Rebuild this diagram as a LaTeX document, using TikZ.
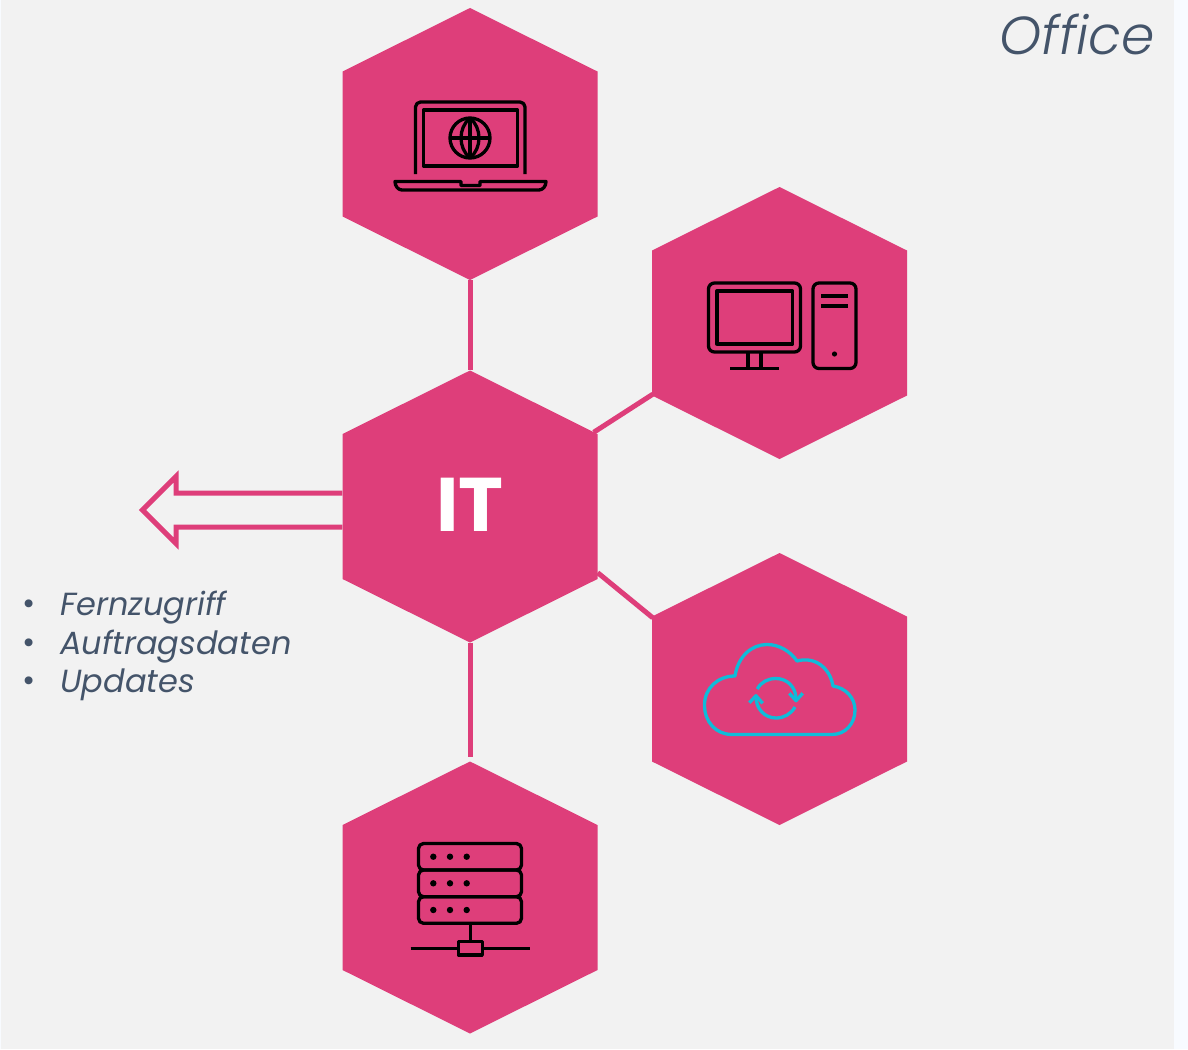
\documentclass[tikz,border=0pt]{standalone}
\usepackage{fontspec}
\usetikzlibrary{calc}
\setmainfont{Poppins}
\newfontfamily\poplight[ItalicFont={Poppins Light Italic}]{Poppins Light}
\definecolor{hexpink}{HTML}{DE3E7A}
\definecolor{slate}{HTML}{44546A}
\definecolor{syncblue}{HTML}{0FBCD9}
\definecolor{panel}{HTML}{F2F2F2}
\definecolor{strip}{HTML}{F8FBFF}
\tikzset{
  hexnode/.style={rectangle,inner sep=0pt,minimum width=255pt,minimum height=272pt,
    path picture={
      \fill[hexpink] (path picture bounding box.north)
        -- ($(path picture bounding box.north east)+(0,63.5)$)
        -- ($(path picture bounding box.south east)+(0,-63.5)$)
        -- (path picture bounding box.south)
        -- ($(path picture bounding box.south west)+(0,-63.5)$)
        -- ($(path picture bounding box.north west)+(0,63.5)$) -- cycle;
    }},
  link/.style={draw=hexpink,line width=5pt},
  icon/.style={draw=black,line width=3.3pt,line join=round},
  syncicon/.style={draw=syncblue,line width=3.3pt,line join=round},
  bodytext/.style={anchor=base west,inner sep=0pt,text=slate,font=\itshape\fontsize{32}{32}\selectfont},
  dotmark/.style={anchor=base west,inner sep=0pt,text=slate,font=\fontsize{32}{32}\selectfont}
}
\begin{document}
\begin{tikzpicture}[x=1pt,y=-1pt]
\useasboundingbox (0,0) rectangle (1188,1049);
\fill[strip] (0,0) rectangle (1188,1049);
\fill[panel] (1,0) rectangle (1174,1049);

\node[hexnode] (top) at (470,144) {};
\node[hexnode] (it) at (470,506.5) {};
\node[hexnode] (pc) at (779.5,323) {};
\node[hexnode] (cloud) at (779.5,689) {};
\node[hexnode] (srv) at (470,897.5) {};

\node[text=white,inner sep=0pt,anchor=base,font=\bfseries\fontsize{76}{76}\selectfont] (itlabel) at (470,531) {IT};
\node[anchor=base east,inner sep=0pt,text=slate,font=\poplight\itshape\fontsize{53.5}{53.5}\selectfont] (office) at (1155,55) {Office};

\node[dotmark] (b1) at (22,614) {•};
\node[dotmark] (b2) at (22,653) {•};
\node[dotmark] (b3) at (22,691) {•};
\node[bodytext] (t1) at (60,615) {Fernzugriff};
\node[bodytext] (t2) at (60,654) {Auftragsdaten};
\node[bodytext] (t3) at (60,692) {Updates};

% connectors
\draw[link] (top.south) -- (it.north);
\draw[link,shorten >=4pt] (it.south) -- (srv.north);
\draw[link] ($(it.north east)+(-4,62)$) -- ($(pc.south west)+(1,-65)$);
\draw[link] ($(it.south east)+(0,-70)$) -- ($(cloud.north west)+(1,65)$);

% outline arrow
\coordinate (au) at ($(it.west)+(0,-13.5)$);
\coordinate (al) at ($(it.west)+(0,20.5)$);
\draw[hexpink,line width=5pt,miter limit=10]
  (au) -- (176,493) -- (176,476.5) -- (142.5,510) -- (176,543.5) -- (176,527) -- (al);

% laptop
\draw[icon,rounded corners=5pt] (415.5,174) -- (415.5,102) -- (525,102) -- (525,174);
\draw[icon] (423.5,110) rectangle (517.5,166);
\draw[icon] (470,138) circle (20);
\draw[icon] (470,118) .. controls (458,128) and (458,148) .. (470,158);
\draw[icon] (470,118) .. controls (482,128) and (482,148) .. (470,158);
\draw[icon] (470,118) -- (470,158);
\draw[icon] (450,138) -- (490,138);
\draw[icon] (395,181.5) -- (461,181.5) -- (461,185) .. controls (461,185.5) .. (463,185.5) -- (478,185.5) .. controls (480,185.5) .. (480,185) -- (480,181.5) -- (546,181.5)
  .. controls (546,186) and (543,190) .. (539,190) -- (402,190) .. controls (398,190) and (395,186) .. (395,181.5) -- cycle;

% desktop
\draw[icon,rounded corners=6pt] (708.5,283) rectangle (800.5,352);
\draw[icon] (717,291) rectangle (792.5,344);
\draw[icon] (748,352) -- (748,368.5);
\draw[icon] (761,352) -- (761,368.5);
\draw[icon] (730,368.5) -- (779,368.5);
\draw[icon,rounded corners=6pt] (813,283) rectangle (856,368.5);
\draw[icon,line width=4pt] (821,296) -- (848,296);
\draw[icon,line width=4pt] (821,306) -- (848,306);
\fill (834.5,354) circle (2.6);

% cloud
\draw[syncicon] (735,676) .. controls (738,656) and (752,644.5) .. (767,644.5)
  .. controls (779,644.5) and (790,651) .. (797,661)
  .. controls (815,656) and (830,668) .. (833,686)
  .. controls (846,688) and (855,698) .. (855,710)
  .. controls (855,724) and (845,734.5) .. (832,734.5)
  -- (732,734.5)
  .. controls (716,734.5) and (704.5,722) .. (704.5,705)
  .. controls (704.5,688) and (718,676) .. (735,676) -- cycle;
\draw[syncicon] (757.3,689) .. controls (761,682) and (768,678.5) .. (776,678.5)
  .. controls (787,678.5) and (796,687) .. (796,699);
\draw[syncicon] (789.3,693.3) -- (796,700.7) -- (802.7,693.3);
\draw[syncicon] (795,707) .. controls (791,714) and (784,718) .. (776,718)
  .. controls (765,718) and (756,709) .. (756,697);
\draw[syncicon] (749.3,702.7) -- (756,695.7) -- (762.7,703.3);

% server
\draw[icon,rounded corners=5pt] (418.5,843.5) rectangle (521.5,870);
\draw[icon,rounded corners=5pt] (418.5,870) rectangle (521.5,896.7);
\draw[icon,rounded corners=5pt] (418.5,896.7) rectangle (521.5,923.3);
\foreach \yy in {856.7,883.3,910}{
  \foreach \xx in {433.3,450,466.7}{
    \fill (\xx,\yy) circle (3.2);
  }
}
\draw[icon] (470.3,923.3) -- (470.3,941.5);
\draw[icon] (458.5,941.5) rectangle (482.3,955);
\draw[icon] (410.5,948.3) -- (458.5,948.3);
\draw[icon] (482.3,948.3) -- (530,948.3);
\end{tikzpicture}
\end{document}
